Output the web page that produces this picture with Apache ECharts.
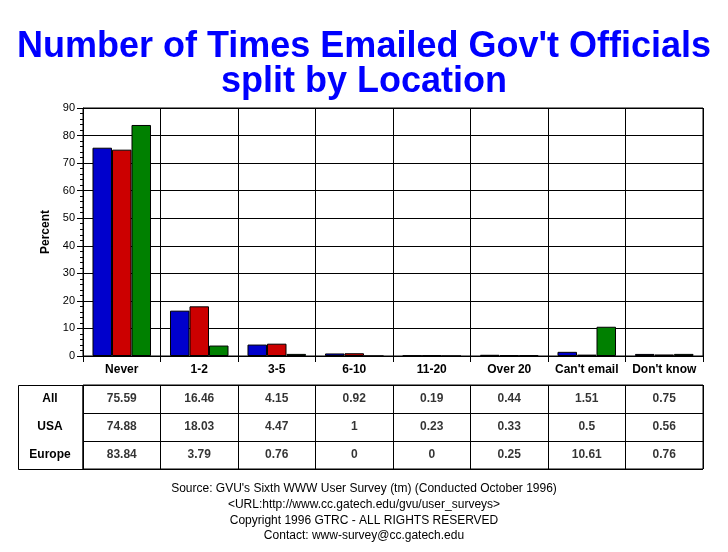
<!DOCTYPE html>
<html><head><meta charset="utf-8">
<script src="https://cdn.jsdelivr.net/npm/echarts@6/dist/echarts.min.js"></script>
<style>html,body{margin:0;padding:0;background:#fff}#c{width:728px;height:552px}</style>
</head><body><div id="c"></div>
<script>
var categories = ['Never','1-2','3-5','6-10','11-20','Over 20',"Can't email","Don't know"];
var rowNames = ['All','USA','Europe'];
var allVals = ['75.59','16.46','4.15','0.92','0.19','0.44','1.51','0.75'];
var usaVals = ['74.88','18.03','4.47','1','0.23','0.33','0.5','0.56'];
var europeVals = ['83.84','3.79','0.76','0','0','0.25','10.61','0.76'];
var yTicks = {min:0, max:90, interval:10};
var colors = ['#0000CC','#CC0000','#008000'];
var FONT = 'Liberation Sans, Arial, Helvetica, sans-serif';
var footerText = "Source: GVU's Sixth WWW User Survey (tm) (Conducted October 1996)\n<URL:http://www.cc.gatech.edu/gvu/user_surveys>\nCopyright 1996 GTRC - ALL RIGHTS RESERVED\nContact: www-survey@cc.gatech.edu";

var rows = [allVals, usaVals, europeVals];
var tableData = [];
rows.forEach(function(r, ri){ r.forEach(function(v, ci){ tableData.push([ci, ri, v]); }); });

var chart = echarts.init(document.getElementById('c'), null, {renderer:'canvas'});
function barSeries(name, vals, color){
  return {type:'bar', name:name, xAxisIndex:0, yAxisIndex:0, data: vals.map(Number),
    barGap:'0%', barCategoryGap:'24.5%',
    itemStyle:{color:color, borderColor:'#000', borderWidth:1}, animation:false};
}
chart.setOption({
  animation:false,
  title:[
    {text:'Number of Times Emailed Gov\'t Officials\nsplit by Location', left:'center', top:25,
     textStyle:{color:'#0000FF', fontSize:36, fontWeight:'bold', fontFamily:FONT, lineHeight:35}}
  ],
  grid:[
    {left:83, top:108, width:620, height:248, show:true, borderColor:'#000', borderWidth:1, containLabel:false},
    {left:83, top:385, width:620, height:84, show:true, borderColor:'#000', borderWidth:1, containLabel:false}
  ],
  xAxis:[
    {type:'category', gridIndex:0, data:categories, boundaryGap:true,
     axisLine:{lineStyle:{color:'#000', width:1}},
     axisTick:{show:true, length:6, interval:0, lineStyle:{color:'#000'}},
     axisLabel:{color:'#000', fontSize:12, fontWeight:'bold', fontFamily:FONT, margin:8, interval:0},
     splitLine:{show:true, interval:0, lineStyle:{color:'#000', width:1}}},
    {type:'category', gridIndex:1, data:categories, boundaryGap:true,
     axisLine:{show:false}, axisTick:{show:false}, axisLabel:{show:false},
     splitLine:{show:true, interval:0, lineStyle:{color:'#000', width:1}}}
  ],
  yAxis:[
    {type:'value', gridIndex:0, min:yTicks.min, max:yTicks.max, interval:yTicks.interval,
     name:'Percent', nameLocation:'middle', nameGap:25, nameRotate:90,
     nameTextStyle:{color:'#000', fontSize:12, fontWeight:'bold', fontFamily:FONT},
     axisLine:{show:true, lineStyle:{color:'#000', width:1}},
     axisTick:{show:true, length:6, lineStyle:{color:'#000'}},
     minorTick:{show:true, splitNumber:5, length:3, lineStyle:{color:'#000'}},
     axisLabel:{color:'#000', fontSize:11, fontFamily:FONT, margin:8},
     splitLine:{show:true, lineStyle:{color:'#000', width:1}}},
    {type:'category', gridIndex:1, data:rowNames, inverse:true, boundaryGap:true,
     axisLine:{show:false}, axisTick:{show:false},
     axisLabel:{color:'#000', fontSize:12, fontWeight:'bold', fontFamily:FONT, margin:33, align:'center', interval:0},
     splitLine:{show:true, interval:0, lineStyle:{color:'#000', width:1}}}
  ],
  graphic:[
    {type:'rect', shape:{x:18.5, y:385.5, width:64.5, height:84}, style:{fill:'none', stroke:'#000', lineWidth:1}, silent:true},
    {type:'text', x:364, y:481, silent:true,
     style:{text:footerText, align:'center', verticalAlign:'top', fill:'#000', fontSize:12, fontFamily:FONT, lineHeight:15.7}}
  ],
  series:[
    barSeries('All', allVals, colors[0]),
    barSeries('USA', usaVals, colors[1]),
    barSeries('Europe', europeVals, colors[2]),
    {type:'scatter', xAxisIndex:1, yAxisIndex:1, data:tableData, symbolSize:1,
     itemStyle:{color:'rgba(0,0,0,0)'},
     label:{show:true, position:'inside', color:'#000', fontSize:12, fontWeight:'bold', fontFamily:FONT,
       formatter:function(p){return p.value[2];}}, silent:true}
  ]
});
</script></body></html>
